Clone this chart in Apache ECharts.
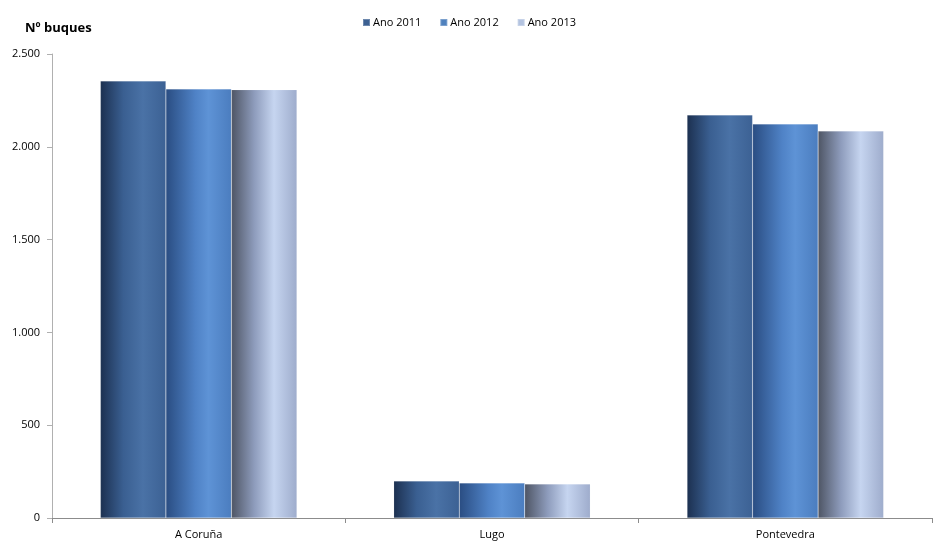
<!DOCTYPE html>
<html><head><meta charset="utf-8">
<script src="https://cdn.jsdelivr.net/npm/echarts@6/dist/echarts.min.js"></script>
<style>html,body{margin:0;padding:0;background:#fff}#c{width:938px;height:559px}</style>
</head><body><div id="c"></div>
<script>
const categories = ['A Coruña', 'Lugo', 'Pontevedra'];
const seriesNames = ['Ano 2011', 'Ano 2012', 'Ano 2013'];
const ano2011 = [2355, 199, 2171];
const ano2012 = [2312, 189, 2123];
const ano2013 = [2308, 183, 2085];
const yTicks = [0, 500, 1000, 1500, 2000, 2500];

const grads = [
  [['#1c3050',0],['#3a5f91',0.35],['#4a72a6',0.65],['#3c6194',1]],
  [['#2a4d82',0],['#4f82c6',0.45],['#5e93d6',0.65],['#4b7dbf',1]],
  [['#4e5564',0],['#8e9cbc',0.35],['#c6d5f0',0.65],['#9eaccc',1]]
];
const legendColors = ['#3d6192', '#4f81bd', '#b3c3e0'];
function grad(g){return new echarts.graphic.LinearGradient(0,0,1,0,g.map(s=>({offset:s[1],color:s[0]})));}
const font = 'Open Sans, Liberation Sans, sans-serif';
const data = [ano2011, ano2012, ano2013];
const chart = echarts.init(document.getElementById('c'));
chart.setOption({
  animation:false,
  textStyle:{fontFamily:font},
  title:{text:'Nº buques', left:20, top:17, textStyle:{fontSize:13, fontWeight:'bold', color:'#000', fontFamily:font}},
  legend:{top:12, left:'center', itemWidth:7, itemHeight:7, itemGap:18, icon:'rect',
    textStyle:{fontSize:11, color:'#000', padding:[0,0,0,-2]},
    data: seriesNames.map((n,i)=>({name:n, itemStyle:{color:legendColors[i]}}))},
  grid:{left:52, right:6, top:54, bottom:41, containLabel:false},
  xAxis:{type:'category', data:categories,
    axisLine:{lineStyle:{color:'#8c8c8c'}},
    axisTick:{show:true, length:5, lineStyle:{color:'#8c8c8c'}},
    axisLabel:{fontSize:11, color:'#000', margin:11}},
  yAxis:{type:'value', min:0, max:2500, interval:500,
    axisLine:{show:true, lineStyle:{color:'#b0b0b0'}},
    axisTick:{show:true, length:5, inside:false, lineStyle:{color:'#b0b0b0'}},
    splitLine:{show:false},
    axisLabel:{fontSize:11, color:'#000', margin:12,
      formatter:v=>v.toString().replace(/\B(?=(\d{3})+(?!\d))/g,'.')}},
  series: seriesNames.map((n,i)=>({
    name:n, type:'bar', data:data[i], barGap:'0%', barCategoryGap:'33%',
    itemStyle:{color:grad(grads[i]), borderColor:'rgba(255,255,255,0.25)', borderWidth:0.5}
  }))
});
</script></body></html>
